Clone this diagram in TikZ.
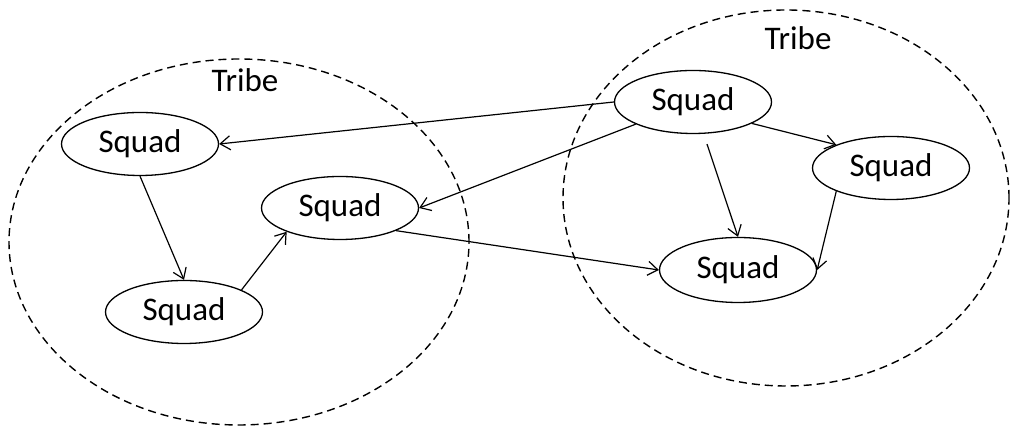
\documentclass[tikz,border=0pt]{standalone}
\usepackage{fontspec}
\setmainfont{Carlito}
\usetikzlibrary{shapes,arrows.meta,positioning}
\tikzstyle{squad} = [ellipse, draw, line width=1.3pt, inner sep=0pt,
    minimum width=157pt, minimum height=63pt, font=\fontsize{33}{36}\selectfont]
\tikzstyle{tribe} = [draw, dashed, dash pattern=on 8pt off 5pt, line width=1.4pt]
\tikzstyle{line} = [draw, line width=1.2pt, -{Straight Barb[length=10pt,width=14pt]}]

\begin{document}
\begin{tikzpicture}[x=1pt,y=1pt]
		\useasboundingbox (0,0) rectangle (1011,427);
		% Draw tribes
		\path [tribe] (239,185) ellipse [x radius=230, y radius=183];
		\path [tribe] (786,229) ellipse [x radius=223, y radius=188];
		\node [font=\fontsize{33}{36}\selectfont] (lefttribe) at (245,347) {Tribe};
		\node [font=\fontsize{33}{36}\selectfont] (righttribe) at (798,389) {Tribe};
		% Draw nodes
		\node [squad] (sqa) at (140,283) {Squad};
		\node [squad] (sqb) at (184,115) {Squad};
		\node [squad] (sqc) at (340,219) {Squad};
		\node [squad] (sqd) at (693,325) {Squad};
		\node [squad] (sqe) at (891,259) {Squad};
		\node [squad, minimum height=65pt] (sqf) at (738,157) {Squad};
		% Helper coordinates
		\coordinate [below right=10pt and 14pt of sqd.south] (dstart);
		% Draw lines connecting (arrows)
		\path [line] (sqd.west) -- (sqa.east);
		\path [line] (sqd) -- (sqc.east);
		\path [line] (sqa.south) -- (sqb.north);
		\path [line] (sqb.21) -- (sqc.204);
		\path [line] (sqc.338) -- (sqf.west);
		\path [line] (dstart) -- (sqf.north);
		\path [line] (sqd.340) -- (sqe.157);
		\path [line] (sqe.203) -- (sqf.east);
	\end{tikzpicture}
\end{document}
